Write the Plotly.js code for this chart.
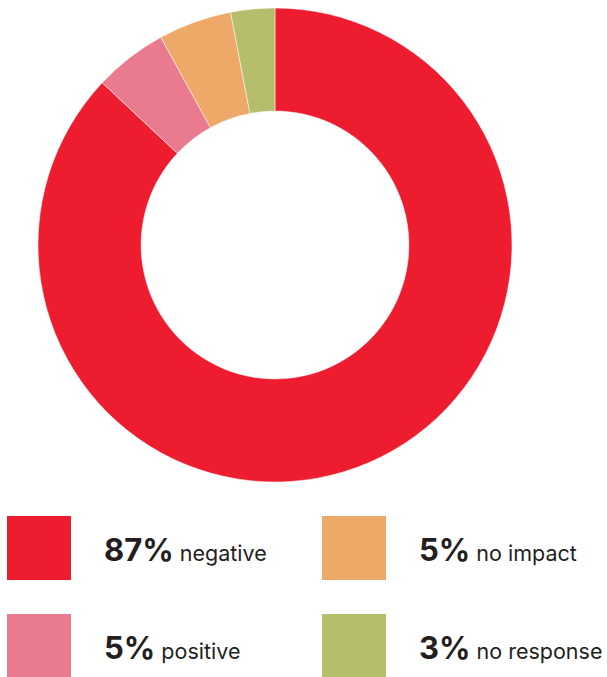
<!DOCTYPE html>
<html><head><meta charset="utf-8">
<script src="https://cdn.plot.ly/plotly-3.0.1.min.js"></script>
<style>html,body{margin:0;padding:0;background:#fff}#c{width:607px;height:677px}</style>
</head><body><div id="c"></div>
<script>
const labels = ["negative", "positive", "no impact", "no response"];
const values = [87, 5, 5, 3];
const pctLabels = ["87%", "5%", "5%", "3%"];
const colors = ["#ED1C2E", "#EA7B8F", "#EEA868", "#B5BE6A"];

const W = 607, H = 677;
const px = x => x / W;
const py = y => 1 - y / H;

// legend grid positions (left/top of square) in order of labels
const legPos = [[7, 516], [7, 614], [322, 516], [322, 614]];
const sq = 64;

const shapes = [], annotations = [];
labels.forEach((l, i) => {
  const [x0, y0] = legPos[i];
  shapes.push({type: "rect", xref: "paper", yref: "paper",
    x0: px(x0), x1: px(x0 + sq), y0: py(y0 + sq), y1: py(y0),
    fillcolor: colors[i], line: {width: 0}});
  annotations.push({xref: "paper", yref: "paper", x: px(x0 + 95), y: py(y0 + 33),
    xanchor: "left", yanchor: "middle", showarrow: false,
    text: '<b style="font-size:31px">' + pctLabels[i] + '</b> ' + l,
    font: {family: "Inter, Roboto, sans-serif", size: 21.5, color: "#231F20"}});
});

Plotly.newPlot("c", [{
  type: "pie", labels: labels, values: values, sort: false, direction: "clockwise",
  rotation: 0, hole: 0.565, textinfo: "none", hoverinfo: "none", showlegend: false,
  marker: {colors: colors, line: {color: "#fff", width: 0.5}},
  domain: {x: [px(38), px(512)], y: [py(482), py(8)]}
}], {
  width: W, height: H, margin: {l: 0, r: 0, t: 0, b: 0},
  paper_bgcolor: "#fff", shapes: shapes, annotations: annotations
}, {displayModeBar: false, staticPlot: true});
</script></body></html>
